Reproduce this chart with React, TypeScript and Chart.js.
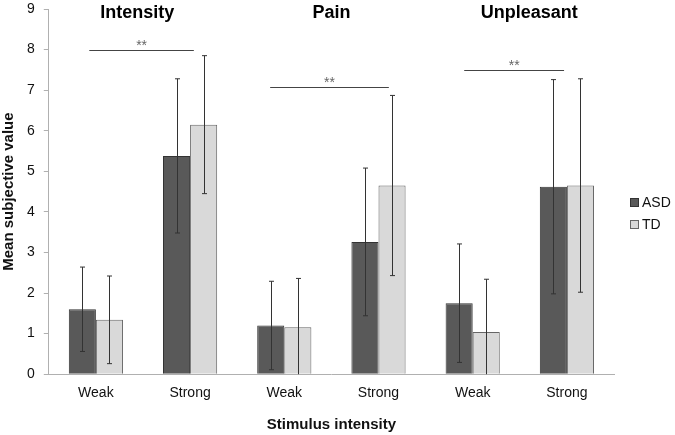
import React, { useEffect, useRef } from "react";
import { Chart, registerables } from "chart.js";

Chart.register(...registerables);

const categories = ["Weak", "Strong", "Weak", "Strong", "Weak", "Strong"];
const groupTitles = ["Intensity", "Pain", "Unpleasant"];
const groupTitlePos = [0.44, 2.5, 4.6];
const asdMeans = [1.6, 5.38, 1.2, 3.26, 1.75, 4.62];
const asdSD = [1.04, 1.9, 1.09, 1.82, 1.46, 2.64];
const tdMeans = [1.34, 6.15, 1.16, 4.65, 1.04, 4.65];
const tdSD = [1.08, 1.7, 1.2, 2.22, 1.3, 2.63];
// significance brackets: [fromCategory, toCategory, yValue]
const sigFrom = [-0.07, 1.85, 3.91];
const sigTo = [1.04, 3.11, 4.97];
const sigY = [7.98, 7.07, 7.5];
const sigLabel = ["**", "**", "**"];
const yTicks = [0, 1, 2, 3, 4, 5, 6, 7, 8, 9];

const FONT = "'Liberation Sans', Arial, sans-serif";

const overlayPlugin = {
  id: "overlay",
  afterDatasetsDraw(chart: any) {
    const ctx = chart.ctx;
    const x = chart.scales.x;
    const y = chart.scales.y;
    ctx.save();
    // error bars
    const sds = [asdSD, tdSD];
    chart.data.datasets.forEach((ds: any, di: number) => {
      const meta = chart.getDatasetMeta(di);
      meta.data.forEach((bar: any, i: number) => {
        const m = ds.data[i];
        const s = sds[di][i];
        const top = y.getPixelForValue(m + s);
        const bot = y.getPixelForValue(Math.max(0, m - s));
        const cx = Math.round(bar.x) + 0.5;
        ctx.strokeStyle = "#333";
        ctx.lineWidth = 1;
        ctx.beginPath();
        ctx.moveTo(cx, top);
        ctx.lineTo(cx, bot);
        ctx.moveTo(cx - 2.5, top);
        ctx.lineTo(cx + 2.5, top);
        if (m - s > 0) {
          ctx.moveTo(cx - 2.5, bot);
          ctx.lineTo(cx + 2.5, bot);
        }
        ctx.stroke();
      });
    });
    const step = x.getPixelForValue(1) - x.getPixelForValue(0);
    const px = (v: number) => x.getPixelForValue(0) + v * step;
    // significance lines
    for (let i = 0; i < sigFrom.length; i++) {
      const yy = Math.round(y.getPixelForValue(sigY[i])) + 0.5;
      ctx.strokeStyle = "#444";
      ctx.lineWidth = 1;
      ctx.beginPath();
      ctx.moveTo(px(sigFrom[i]), yy);
      ctx.lineTo(px(sigTo[i]), yy);
      ctx.stroke();
      ctx.fillStyle = "#666";
      ctx.font = `14px ${FONT}`;
      ctx.textAlign = "center";
      ctx.textBaseline = "alphabetic";
      ctx.fillText(sigLabel[i], (px(sigFrom[i]) + px(sigTo[i])) / 2, yy - 1);
    }
    // group titles
    ctx.fillStyle = "#000";
    ctx.font = `bold 18px ${FONT}`;
    ctx.textAlign = "center";
    ctx.textBaseline = "alphabetic";
    for (let g = 0; g < groupTitles.length; g++) {
      ctx.fillText(groupTitles[g], px(groupTitlePos[g]), 18);
    }
    // legend
    const items = [
      { label: "ASD", fill: "#595959", stroke: "#333" },
      { label: "TD", fill: "#d9d9d9", stroke: "#666" },
    ];
    ctx.font = `14px ${FONT}`;
    ctx.textAlign = "left";
    items.forEach((it, i) => {
      const ly = 203 + i * 22;
      ctx.fillStyle = it.fill;
      ctx.fillRect(630.5, ly - 4.5, 8, 8);
      ctx.strokeStyle = it.stroke;
      ctx.lineWidth = 1;
      ctx.strokeRect(630.5, ly - 4.5, 8, 8);
      ctx.fillStyle = "#111";
      ctx.textBaseline = "middle";
      ctx.fillText(it.label, 642, ly);
    });
    ctx.restore();
  },
};

export default function App() {
  const ref = useRef<HTMLCanvasElement>(null);
  useEffect(() => {
    if (!ref.current) return;
    const chart = new Chart(ref.current, {
      type: "bar",
      data: {
        labels: categories,
        datasets: [
          {
            label: "ASD",
            data: asdMeans,
            backgroundColor: "#595959",
            borderColor: "#333333",
            borderWidth: 1,
            categoryPercentage: 0.575,
            barPercentage: 1,
          },
          {
            label: "TD",
            data: tdMeans,
            backgroundColor: "#d9d9d9",
            borderColor: "#666666",
            borderWidth: 1,
            categoryPercentage: 0.575,
            barPercentage: 1,
          },
        ],
      },
      options: {
        responsive: false,
        animation: false,
        layout: { padding: { left: 0, right: 61, top: 9, bottom: 1 } },
        plugins: {
          legend: { display: false },
          tooltip: { enabled: false },
        },
        scales: {
          x: {
            grid: { display: false },
            border: { display: true, color: "#b0b0b0", width: 1 },
            ticks: { color: "#111", font: { family: FONT, size: 14 }, padding: 3 },
            title: {
              display: true,
              text: "Stimulus intensity",
              color: "#111",
              font: { family: FONT, size: 15, weight: "bold" },
              padding: { top: 11, bottom: 0 },
            },
          },
          y: {
            min: 0,
            max: 9,
            afterBuildTicks: (s: any) => {
              s.ticks = yTicks.map((v) => ({ value: v }));
            },
            afterFit: (s: any) => {
              s.paddingTop = 0;
              s.paddingBottom = 0;
            },
            grid: { drawOnChartArea: false, drawTicks: true, tickLength: 5, color: "#b0b0b0" },
            border: { display: true, color: "#b0b0b0", width: 1 },
            ticks: { color: "#111", font: { family: FONT, size: 14 }, padding: 9 },
            title: {
              display: true,
              text: "Mean subjective value",
              color: "#111",
              font: { family: FONT, size: 15, weight: "bold" },
              padding: { top: 0, bottom: 0 },
            },
          },
        },
      },
      plugins: [overlayPlugin],
    });
    return () => chart.destroy();
  }, []);
  return (
    <div style={{ position: "fixed", left: 0, top: 0, width: 675, height: 435, background: "#fff" }}>
      <canvas ref={ref} width={675} height={435} />
    </div>
  );
}
